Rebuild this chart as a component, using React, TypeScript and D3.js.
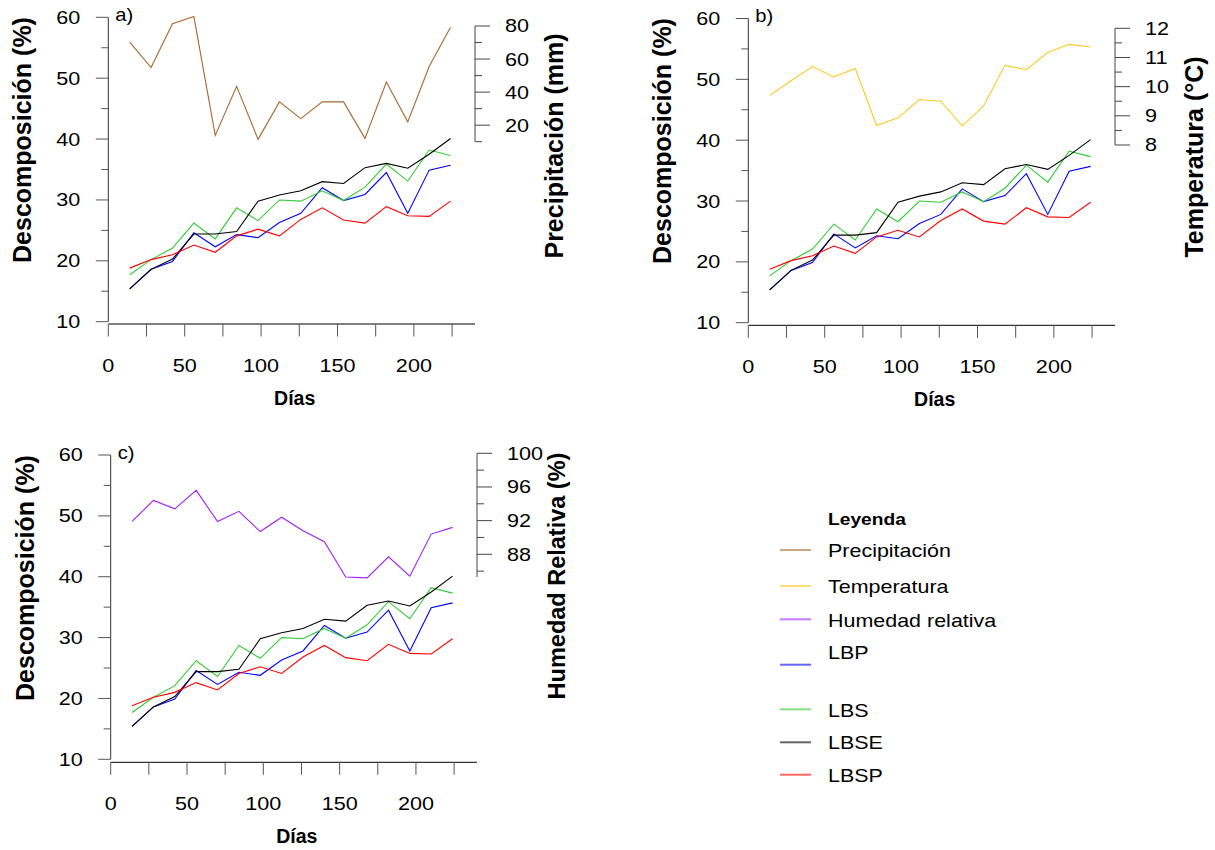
import React from "react";
import * as d3 from "d3";

// sampling days (same for every series)
const days = [14, 28, 42, 56, 70, 84, 98, 112, 126, 140, 154, 168, 182, 196, 210, 224];

// decomposition (%) per treatment
const lbp = [15.4, 18.6, 19.9, 24.6, 22.3, 24.3, 23.8, 26.3, 27.8, 32.0, 29.9, 30.9, 34.5, 27.8, 34.9, 35.7];
const lbs = [17.7, 20.2, 22.1, 26.2, 23.6, 28.7, 26.6, 30.0, 29.8, 31.5, 29.9, 32.1, 35.9, 33.1, 38.2, 37.3];
const lbse = [15.4, 18.6, 20.3, 24.4, 24.4, 24.8, 29.8, 30.8, 31.5, 33.0, 32.7, 35.3, 36.0, 35.2, 37.5, 40.1];
const lbsp = [18.8, 20.2, 21.0, 22.6, 21.4, 24.1, 25.2, 24.1, 26.8, 28.7, 26.7, 26.2, 28.9, 27.4, 27.3, 29.8];

// climate series
const precipitacion = [70.2, 54.9, 81.4, 85.7, 13.8, 43.5, 11.4, 34.1, 24.0, 34.1, 34.1, 12.0, 46.1, 22.0, 55.5, 79.3];
const temperatura = [9.7, 10.2, 10.69, 10.33, 10.62, 8.67, 8.93, 9.56, 9.5, 8.65, 9.34, 10.73, 10.58, 11.17, 11.45, 11.36];
const humedad = [91.9, 94.4, 93.4, 95.6, 91.9, 93.1, 90.7, 92.4, 90.8, 89.5, 85.3, 85.2, 87.7, 85.4, 90.4, 91.2];

const xTickValues = [0, 25, 50, 75, 100, 125, 150, 175, 200, 225];
const xTickLabels = ["0", "", "50", "", "100", "", "150", "", "200", ""];
const yTickValues = [10, 15, 20, 25, 30, 35, 40, 45, 50, 55, 60];

const FONT = "'Liberation Sans', Arial, sans-serif";

const treatments = [
  { name: "LBP", color: "#0000ff", values: lbp },
  { name: "LBS", color: "#33cc33", values: lbs },
  { name: "LBSE", color: "#000000", values: lbse },
  { name: "LBSP", color: "#ff0000", values: lbsp },
];

const COL_PREC = "#a8682f";
const COL_TEMP = "#ffc820";
const COL_HUM = "#a020f0";

const panels = [
  {
    label: "a)",
    left: 108.3, right: 475, top: 17.3, bottom: 321.7, axisY: 324,
    rTitle: "Precipitación (mm)", rTitleY: 146, lTitleY: 140, rTitleSize: 25,
    values: precipitacion, color: COL_PREC,
    rDomain: [10, 80], rRange: [141.7, 26], rExtent: [10, 80],
    rTicks: [10, 20, 30, 40, 50, 60, 70, 80], rLabels: [20, 40, 60, 80],
  },
  {
    label: "b)",
    left: 748.3, right: 1115, top: 18.5, bottom: 322.7, axisY: 325.3,
    rTitle: "Temperatura (°C)", rTitleY: 157, lTitleY: 141, rTitleSize: 25,
    values: temperatura, color: COL_TEMP,
    rDomain: [8, 12], rRange: [145, 28.3], rExtent: [8, 12],
    rTicks: [8, 8.5, 9, 9.5, 10, 10.5, 11, 11.5, 12], rLabels: [8, 9, 10, 11, 12],
  },
  {
    label: "c)",
    left: 110.7, right: 477, top: 455, bottom: 759.3, axisY: 762.3,
    rTitle: "Humedad Relativa (%)", rTitleY: 576, lTitleY: 578, rTitleSize: 23.5,
    values: humedad, color: COL_HUM,
    rDomain: [88, 100], rRange: [554.3, 453.3], rExtent: [85.3, 100],
    rTicks: [86, 88, 90, 92, 94, 96, 98, 100], rLabels: [88, 92, 96, 100],
  },
];

const legendItems = [
  { name: "Precipitación", color: COL_PREC, lineY: 550, textY: 557.3 },
  { name: "Temperatura", color: COL_TEMP, lineY: 586, textY: 593.3 },
  { name: "Humedad relativa", color: COL_HUM, lineY: 619.3, textY: 627.3 },
  { name: "LBP", color: "#0000ff", lineY: 664.7, textY: 659.3 },
  { name: "LBS", color: "#33cc33", lineY: 709.3, textY: 716.7 },
  { name: "LBSE", color: "#000000", lineY: 742.3, textY: 749.3 },
  { name: "LBSP", color: "#ff0000", lineY: 774.7, textY: 781.7 },
];

function Txt({ x, y, sx = 1.2, size = 18, anchor = "start", weight = "normal", dy = "0", children }: any) {
  return (
    <text
      transform={`translate(${x},${y}) scale(${sx},1)`}
      textAnchor={anchor}
      dy={dy}
      fontSize={size}
      fontWeight={weight}
      fontFamily={FONT}
      fill="#000"
    >
      {children}
    </text>
  );
}

function VTitle({ x, y, size = 25, children }: any) {
  return (
    <text
      transform={`translate(${x},${y}) rotate(-90)`}
      textAnchor="middle"
      fontSize={size}
      fontWeight="bold"
      fontFamily={FONT}
      fill="#000"
    >
      {children}
    </text>
  );
}

function Panel({ p }: any) {
  const x = d3.scaleLinear().domain([0, 240]).range([p.left, p.right]);
  const y = d3.scaleLinear().domain([10, 60]).range([p.bottom, p.top]);
  const y2 = d3.scaleLinear().domain(p.rDomain).range(p.rRange);

  const line = d3.line<number>().x((_, i) => x(days[i])).y((d) => y(d));
  const line2 = d3.line<number>().x((_, i) => x(days[i])).y((d) => y2(d));

  return (
    <g>
      {/* left axis */}
      <line x1={p.left} x2={p.left} y1={y(60)} y2={y(10)} stroke="#333" />
      {yTickValues.map((v) => (
        <line key={v} x1={p.left - (v % 10 === 0 ? 12.5 : 7)} x2={p.left} y1={y(v)} y2={y(v)} stroke="#555" />
      ))}
      {yTickValues.filter((v) => v % 10 === 0).map((v) => (
        <Txt key={v} x={p.left - 28} y={y(v)} anchor="end" dy="0.36em">{v}</Txt>
      ))}

      {/* bottom axis */}
      <line x1={p.left} x2={p.right} y1={p.axisY} y2={p.axisY} stroke="#000" />
      {xTickValues.map((v, i) => (
        <g key={v}>
          <line x1={x(v)} x2={x(v)} y1={p.axisY} y2={p.axisY + 12.5} stroke="#555" />
          {xTickLabels[i] && (
            <Txt x={x(v)} y={p.axisY + 47.5} anchor="middle">{xTickLabels[i]}</Txt>
          )}
        </g>
      ))}

      {/* right axis */}
      <line x1={p.right} x2={p.right} y1={y2(p.rExtent[0])} y2={y2(p.rExtent[1])} stroke="#444" />
      {p.rTicks.map((v: number) => (
        <line key={v} x1={p.right} x2={p.right + (p.rLabels.includes(v) ? 15 : 7)} y1={y2(v)} y2={y2(v)} stroke="#444" />
      ))}
      {p.rLabels.map((v: number) => (
        <Txt key={v} x={p.right + 30} y={y2(v)} dy="0.36em">{v}</Txt>
      ))}

      {/* titles */}
      <VTitle x={p.left - 77} y={p.lTitleY}>Descomposición (%)</VTitle>
      <VTitle x={p.right + 88} y={p.rTitleY} size={p.rTitleSize}>{p.rTitle}</VTitle>
      <text x={(p.left + p.right) / 2 + 3} y={p.axisY + 81} textAnchor="middle" fontSize={19.5} fontWeight="bold" fontFamily={FONT}>
        Días
      </text>
      <Txt x={p.left + 7} y={p.top + 3.5} sx={1.12}>{p.label}</Txt>

      {/* climate series */}
      <path d={line2(p.values) || ""} fill="none" stroke={p.color} strokeWidth={1.1} />

      {/* decomposition series */}
      {treatments.map((s) => (
        <path key={s.name} d={line(s.values) || ""} fill="none" stroke={s.color} strokeWidth={1.1} />
      ))}
    </g>
  );
}

export default function App() {
  return (
    <svg width={1215} height={850} style={{ position: "absolute", left: 0, top: 0, background: "#fff" }}>
      {panels.map((p) => (
        <Panel key={p.label} p={p} />
      ))}
      <Txt x={828} y={525} size={16} weight="bold" sx={1.2}>Leyenda</Txt>
      {legendItems.map((it) => (
        <g key={it.name}>
          <line x1={780} x2={811} y1={it.lineY} y2={it.lineY} stroke={it.color} strokeWidth={2} strokeOpacity={0.6} />
          <Txt x={828} y={it.textY} size={19} sx={1.13}>{it.name}</Txt>
        </g>
      ))}
    </svg>
  );
}
